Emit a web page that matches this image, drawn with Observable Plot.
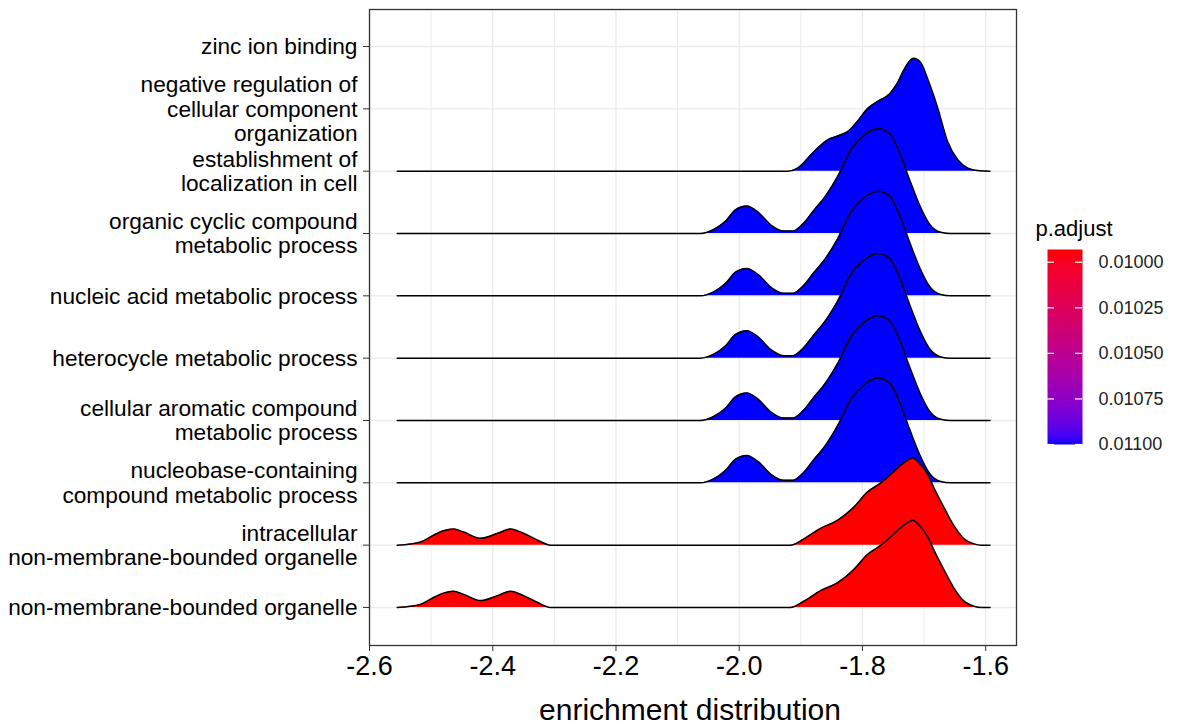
<!DOCTYPE html>
<html><head><meta charset="utf-8">
<script src="https://cdn.jsdelivr.net/npm/d3@7"></script>
<script src="https://cdn.jsdelivr.net/npm/@observablehq/plot@0.6"></script>
<style>
body{margin:0;background:#fff;font-family:"Liberation Sans",Arial,sans-serif;}
#wrap{position:relative;width:1177px;height:726px;overflow:hidden;}
#main{position:absolute;left:0;top:0;}
#legend{position:absolute;left:1030px;top:210px;}
</style></head><body><div id="wrap"><div id="main"></div><div id="legend"></div></div>
<script>
// categories, bottom row first
const categories = [
  "non-membrane-bounded organelle",
  "intracellular\nnon-membrane-bounded organelle",
  "nucleobase-containing\ncompound metabolic process",
  "cellular aromatic compound\nmetabolic process",
  "heterocycle metabolic process",
  "nucleic acid metabolic process",
  "organic cyclic compound\nmetabolic process",
  "establishment of\nlocalization in cell",
  "negative regulation of\ncellular component\norganization",
  "zinc ion binding"
];
const pAdjust = [0.00993, 0.00993, 0.011, 0.011, 0.011, 0.011, 0.011, 0.011, null, null];
const ridgeShape = ["organelle", "organelle", "metabolic", "metabolic", "metabolic", "metabolic", "metabolic", "localization", null, null];

// ridge outlines (x = enrichment, h = ridge height in row units)
const organelleX = [-2.555, -2.533, -2.517, -2.496, -2.480, -2.464, -2.447, -2.420, -2.392, -2.371, -2.350, -2.327, -2.306,
  -1.917, -1.895, -1.868, -1.840, -1.814, -1.792, -1.770, -1.749, -1.733, -1.718, -1.709, -1.694, -1.684, -1.668, -1.652, -1.636, -1.619, -1.607, -1.593];
const organelleH = [0, 0.02, 0.05, 0.16, 0.23, 0.26, 0.21, 0.11, 0.19, 0.26, 0.19, 0.08, 0,
  0, 0.1, 0.27, 0.4, 0.61, 0.85, 1.0, 1.18, 1.32, 1.4, 1.33, 1.13, 0.92, 0.61, 0.32, 0.11, 0.02, 0, 0];

const metabolicX = [-2.555, -2.063, -2.042, -2.022, -2.006, -1.988, -1.969, -1.949, -1.928, -1.913, -1.897, -1.879, -1.860,
  -1.840, -1.819, -1.798, -1.775, -1.756, -1.740, -1.723, -1.707, -1.691, -1.673, -1.657, -1.593];
const metabolicH = [0, 0, 0.06, 0.2, 0.38, 0.44, 0.34, 0.14, 0.04, 0.04, 0.15, 0.37, 0.6,
  0.92, 1.34, 1.57, 1.68, 1.6, 1.3, 0.85, 0.45, 0.15, 0.02, 0, 0];

const localizationX = [-2.555, -1.921, -1.905, -1.880, -1.857, -1.836, -1.822, -1.808, -1.792, -1.775, -1.755, -1.743,
  -1.733, -1.717, -1.706, -1.693, -1.678, -1.662, -1.645, -1.629, -1.610, -1.593];
const localizationH = [0, 0, 0.05, 0.3, 0.5, 0.58, 0.65, 0.8, 1.0, 1.12, 1.25, 1.42,
  1.62, 1.81, 1.75, 1.45, 1.02, 0.48, 0.18, 0.05, 0.005, 0];

const xTicks = [-2.6, -2.4, -2.2, -2.0, -1.8, -1.6];
const xMinor = [-2.5, -2.3, -2.1, -1.9, -1.7];
const legendTicks = [0.01, 0.01025, 0.0105, 0.01075, 0.011];
const xTitle = "enrichment distribution";
const legendTitle = "p.adjust";

const shapes = {
  organelle: [organelleX, organelleH],
  metabolic: [metabolicX, metabolicH],
  localization: [localizationX, localizationH]
};

const pDomain = [0.00993, 0.011];
const colorScale = {type: "linear", domain: pDomain, range: ["red", "blue"], interpolate: d3.interpolateLab};

// build ridge tables, drawn from top row down so lower rows overlap upper ones
const ridgeMarks = [];
for (let i = categories.length - 1; i >= 0; i--) {
  const s = ridgeShape[i];
  if (!s) continue;
  const [xs, hs] = shapes[s];
  const rows = xs.map((x, j) => ({row: i + 1, x, top: i + 1 + hs[j], p: pAdjust[i]}));
  ridgeMarks.push(Plot.areaY(rows, {x: "x", y1: "row", y2: "top", fill: "p", curve: "monotone-x"}));
  ridgeMarks.push(Plot.lineY(rows, {x: "x", y: "top", stroke: "black", strokeWidth: 1.5, curve: "monotone-x"}));
}

const rowsIdx = d3.range(1, categories.length + 1);

const main = Plot.plot({
  width: 1177, height: 726,
  marginLeft: 369, marginRight: 161, marginTop: 9, marginBottom: 81,
  style: {fontFamily: "'Liberation Sans', Arial, sans-serif", background: "white", color: "black"},
  x: {domain: [-2.6, -1.55]},
  y: {domain: [0.39, 10.594]},
  color: colorScale,
  marks: [
    Plot.gridX(xMinor, {stroke: "#EBEBEB", strokeOpacity: 1, strokeWidth: 1}),
    Plot.gridX(xTicks, {stroke: "#EBEBEB", strokeOpacity: 1, strokeWidth: 1.3}),
    Plot.gridY(rowsIdx, {stroke: "#EBEBEB", strokeOpacity: 1, strokeWidth: 1.3}),
    ...ridgeMarks,
    Plot.frame({stroke: "#333333", strokeWidth: 1.3}),
    Plot.axisX(xTicks, {tickFormat: d => d.toFixed(1), fontSize: 27, tickSize: 6, tickPadding: 4, stroke: "#333333", fill: "black", label: null}),
    Plot.axisY(rowsIdx, {tickFormat: i => categories[i - 1], fontSize: 22.7, lineHeight: 1.06, tickSize: 6, tickPadding: 6, stroke: "#333333", fill: "black", label: null}),
    Plot.text([xTitle], {frameAnchor: "bottom", lineAnchor: "middle", dx: -3, dy: 65, fontSize: 30, fill: "black"})
  ]
});
document.getElementById("main").appendChild(main);

const legend = Plot.plot({
  width: 147, height: 260,
  marginLeft: 17, marginRight: 95, marginTop: 39, marginBottom: 26,
  style: {fontFamily: "'Liberation Sans', Arial, sans-serif", background: "transparent", color: "black", overflow: "visible"},
  x: {domain: [0, 1], axis: null},
  y: {domain: pDomain, reverse: true, axis: null},
  color: colorScale,
  marks: [
    Plot.raster({fill: (x, y) => y, x1: 0, x2: 1, y1: pDomain[0], y2: pDomain[1], pixelSize: 1, imageRendering: "auto"}),
    Plot.ruleY(legendTicks, {x1: 0, x2: 0.2, stroke: "white", strokeWidth: 1.2}),
    Plot.ruleY(legendTicks, {x1: 0.8, x2: 1, stroke: "white", strokeWidth: 1.2}),
    Plot.text(legendTicks, {x: 1, y: d => d, dx: 16, text: d => d.toFixed(5), textAnchor: "start", fontSize: 18, fill: "#222"}),
    Plot.text([legendTitle], {frameAnchor: "top-left", lineAnchor: "middle", dx: -12, dy: -21, textAnchor: "start", fontSize: 22, fill: "black"})
  ]
});
document.getElementById("legend").appendChild(legend);
</script></body></html>
